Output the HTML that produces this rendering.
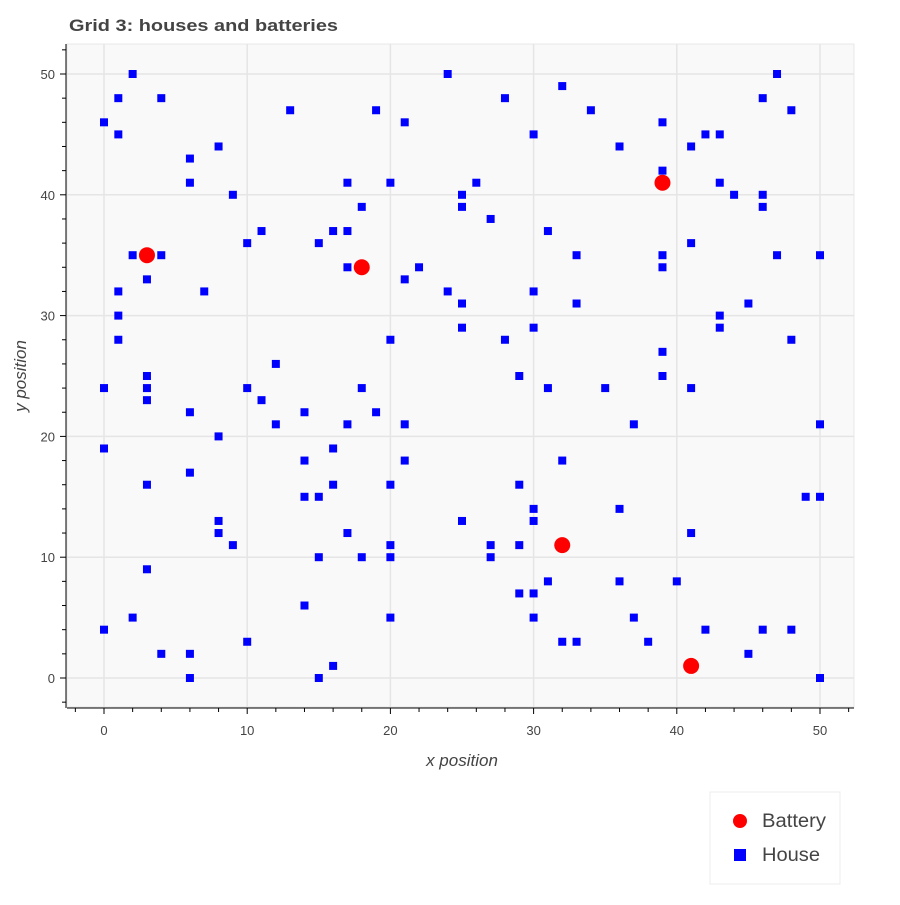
<!DOCTYPE html>
<html><head><meta charset="utf-8">
<style>
body{margin:0;background:#fff;font-family:"Liberation Sans",sans-serif;}
svg text{font-family:"Liberation Sans",sans-serif;}
</style></head>
<body>
<svg id="chart" width="900" height="900" xmlns="http://www.w3.org/2000/svg">
<text x="69" y="31" font-size="17" font-weight="bold" fill="#444" textLength="269" lengthAdjust="spacingAndGlyphs">Grid 3: houses and batteries</text>
<rect x="67" y="44" width="787" height="663" fill="#f9f9f9" stroke="#e8e8e8"/>
<g id="grid"></g>
<g id="axes"></g>
<g id="marks"></g>
<text x="462" y="766" font-size="17" font-style="italic" fill="#444" text-anchor="middle">x position</text>
<text x="0" y="0" font-size="17" font-style="italic" fill="#444" text-anchor="middle" transform="translate(26,376) rotate(-90)">y position</text>
<g>
<rect x="710" y="792" width="130" height="92" fill="#fff" stroke="#ececec"/>
<g>
<circle cx="740" cy="821" r="7" fill="red"/>
<text x="762" y="827" font-size="19" fill="#444" textLength="64" lengthAdjust="spacingAndGlyphs">Battery</text></g>
<g>
<rect x="734" y="849" width="12" height="12" fill="blue"/>
<text x="762" y="861" font-size="19" fill="#444" textLength="58" lengthAdjust="spacingAndGlyphs">House</text></g>
</g>
</svg>
<script>
const houseX=[2,24,47,32,1,4,28,46,13,19,34,48,0,21,39,1,30,42,43,8,36,41,6,39,6,17,20,26,43,9,25,44,46,18,25,46,27,11,16,17,31,10,15,41,2,4,33,39,47,50,17,22,39,3,21,1,7,24,30,25,33,45,1,43,25,30,43,1,20,28,48,39,12,3,29,39,0,3,10,18,31,35,41,3,11,6,14,19,12,17,21,37,50,8,0,16,14,21,32,6,3,16,20,29,14,15,49,50,30,36,8,25,30,8,17,41,9,20,27,29,15,18,20,27,3,31,36,40,29,30,14,2,20,30,37,0,42,46,48,10,32,33,38,4,6,45,16,6,15,50];
const houseY=[50,50,50,49,48,48,48,48,47,47,47,47,46,46,46,45,45,45,45,44,44,44,43,42,41,41,41,41,41,40,40,40,40,39,39,39,38,37,37,37,37,36,36,36,35,35,35,35,35,35,34,34,34,33,33,32,32,32,32,31,31,31,30,30,29,29,29,28,28,28,28,27,26,25,25,25,24,24,24,24,24,24,24,23,23,22,22,22,21,21,21,21,21,20,19,19,18,18,18,17,16,16,16,16,15,15,15,15,14,14,13,13,13,12,12,12,11,11,11,11,10,10,10,10,9,8,8,8,7,7,6,5,5,5,5,4,4,4,4,3,3,3,3,2,2,2,1,0,0,0];
const batteryX=[3,18,39,32,41];
const batteryY=[35,34,41,11,1];
const xTicks=[0,10,20,30,40,50];
const yTicks=[0,10,20,30,40,50];
const NS="http://www.w3.org/2000/svg";
const sx=v=>104+v*14.32, sy=v=>678-v*12.08;
function mk(t,a,p){const e=document.createElementNS(NS,t);for(const k in a)e.setAttribute(k,a[k]);p.appendChild(e);return e;}
const grid=document.getElementById('grid'),axes=document.getElementById('axes'),marks=document.getElementById('marks');
xTicks.forEach(t=>{const l=mk('line',{x1:sx(t),x2:sx(t),y1:44,y2:707,stroke:'#e5e5e5','stroke-width':1.5},grid);
});
yTicks.forEach(t=>{const l=mk('line',{x1:67,x2:854,y1:sy(t),y2:sy(t),stroke:'#e5e5e5','stroke-width':1.5},grid);
});
let a=mk('line',{x1:67,x2:854,y1:708,y2:708,stroke:'#000'},axes);
a=mk('line',{x1:66,x2:66,y1:44,y2:708,stroke:'#000'},axes);
for(let v=-2;v<=52;v+=2){const maj=v%10===0;const t=mk('line',{x1:sx(v),x2:sx(v),y1:708,y2:708+(maj?6:4),stroke:'#000'},axes);

if(sy(v)>=44&&sy(v)<=707){const u=mk('line',{x1:66,x2:66-(maj?6:4),y1:sy(v),y2:sy(v),stroke:'#000'},axes);
}}
xTicks.forEach(t=>{const e=mk('text',{x:sx(t),y:735,'font-size':13,fill:'#444','text-anchor':'middle'},axes);e.textContent=t;
});
yTicks.forEach(t=>{const e=mk('text',{x:55,y:sy(t)+5,'font-size':13,fill:'#444','text-anchor':'end'},axes);e.textContent=t;
});
houseX.forEach((x,i)=>{const r=mk('rect',{x:sx(x)-4,y:sy(houseY[i])-4,width:8,height:8,fill:'blue'},marks);
});
batteryX.forEach((x,i)=>{const c=mk('circle',{cx:sx(x),cy:sy(batteryY[i]),r:8,fill:'red'},marks);
});
</script>
</body></html>
